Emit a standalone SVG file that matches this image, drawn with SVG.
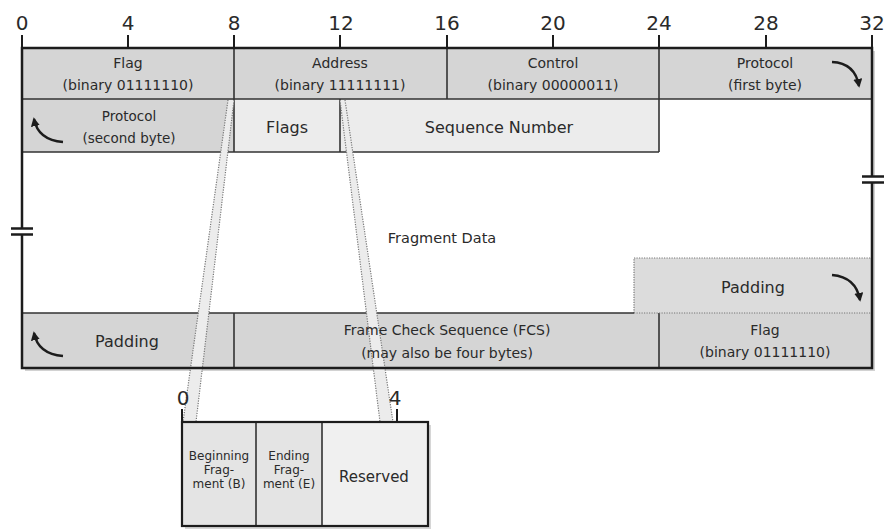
<svg xmlns="http://www.w3.org/2000/svg" width="886" height="531" viewBox="0 0 886 531">
<style>
text{font-family:"DejaVu Sans","Liberation Sans",sans-serif;fill:#2a2a2a;text-anchor:middle}
.tick{font-size:20px}
.sm{font-size:14px}
.md{font-size:16px}
.xs{font-size:12px}
.gray{fill:#d5d5d5}
.light{fill:#ececec}
.inner{stroke:#333;stroke-width:1.6;fill:none}
.outer{stroke:#1c1c1c;stroke-width:2.5;fill:none}
.dot{stroke:#777;stroke-width:1.2;stroke-dasharray:1.2 1.3;fill:none}
.arr{stroke:#1c1c1c;stroke-width:2.4;fill:none;marker-end:url(#ah)}
</style>
<defs>
<marker id="ah" viewBox="0 0 10 10" refX="8" refY="5" markerWidth="9" markerHeight="9" markerUnits="userSpaceOnUse" orient="auto">
<path d="M0,0 L10,5 L0,10 z" fill="#1c1c1c"/>
</marker>
</defs>
<rect width="886" height="531" fill="#ffffff"/>
<!-- ruler -->
<g id="ruler">
<g stroke="#1c1c1c" stroke-width="2">
<line x1="22" y1="35" x2="22" y2="48"/>
<line x1="128" y1="35" x2="128" y2="48"/>
<line x1="234" y1="35" x2="234" y2="48"/>
<line x1="340" y1="35" x2="340" y2="48"/>
<line x1="447" y1="35" x2="447" y2="48"/>
<line x1="553" y1="35" x2="553" y2="48"/>
<line x1="659" y1="35" x2="659" y2="48"/>
<line x1="766" y1="35" x2="766" y2="48"/>
<line x1="872" y1="35" x2="872" y2="48"/>
</g>
<text class="tick" x="22" y="30">0</text>
<text class="tick" x="128" y="30">4</text>
<text class="tick" x="234" y="30">8</text>
<text class="tick" x="341" y="30">12</text>
<text class="tick" x="447" y="30">16</text>
<text class="tick" x="553" y="30">20</text>
<text class="tick" x="659" y="30">24</text>
<text class="tick" x="766" y="30">28</text>
<text class="tick" x="872" y="30">32</text>
</g>
<!-- frame background and shadow -->
<g id="frame">
<rect x="25" y="51" width="850" height="320" fill="#d2d2d2"/>
<rect x="22" y="48" width="850" height="320" fill="#ffffff"/>
</g>
<g id="flag1">
<rect class="gray" x="22" y="48" width="212" height="51"/>
<text class="sm" x="128" y="68">Flag</text>
<text class="sm" x="128" y="90">(binary 01111110)</text>
</g>
<g id="address">
<rect class="gray" x="234" y="48" width="213" height="51"/>
<text class="sm" x="340" y="68">Address</text>
<text class="sm" x="340" y="90">(binary 11111111)</text>
</g>
<g id="control">
<rect class="gray" x="447" y="48" width="212" height="51"/>
<text class="sm" x="553" y="68">Control</text>
<text class="sm" x="553" y="90">(binary 00000011)</text>
</g>
<g id="protocol1">
<rect class="gray" x="659" y="48" width="213" height="51"/>
<text class="sm" x="765" y="68">Protocol</text>
<text class="sm" x="765" y="90">(first byte)</text>
<path class="arr" d="M832,62 Q855,63 859,86"/>
</g>
<g id="protocol2">
<rect class="gray" x="22" y="99" width="212" height="53"/>
<text class="sm" x="129" y="121" style="font-size:13.5px">Protocol</text>
<text class="sm" x="129" y="143" style="font-size:13.5px">(second byte)</text>
<path class="arr" d="M63,142 Q38,140 34,119"/>
</g>
<g id="flags">
<rect class="light" x="234" y="99" width="106" height="53"/>
<text class="md" x="287" y="133">Flags</text>
</g>
<g id="sequence">
<rect class="light" x="340" y="99" width="319" height="53"/>
<text class="md" x="499" y="133">Sequence Number</text>
</g>
<g id="fragment">
<text class="md" x="442" y="243" style="font-size:14.5px">Fragment Data</text>
</g>
<g id="padding1">
<rect x="634" y="258" width="238" height="55" fill="#dcdcdc"/>
<path class="dot" d="M634,313 V258 H872"/>
<text class="md" x="753" y="293">Padding</text>
<path class="arr" d="M832,275 Q856,277 860,300"/>
</g>
<g id="padding2">
<rect class="gray" x="22" y="313" width="212" height="55"/>
<text class="md" x="127" y="347">Padding</text>
<path class="arr" d="M63,356 Q38,354 34,333"/>
</g>
<g id="fcs">
<rect class="gray" x="234" y="313" width="425" height="55"/>
</g>
<g id="flag2">
<rect class="gray" x="659" y="313" width="213" height="55"/>
</g>
<!-- internal lines -->
<g id="grid">
<path class="inner" d="M22,99 H872 M234,48 V99 M447,48 V99 M659,48 V152 M234,99 V152 M340,99 V152 M22,152 H659 M22,313 H634 M234,313 V368 M659,313 V368"/>
<path class="dot" d="M634,313 H872"/>
</g>
<!-- zoom bands -->
<g id="connectors">
<polygon points="228,100 234,100 196,422 183,422" fill="#ececec"/>
<polygon points="340,100 345,100 393,422 380,422" fill="#ececec"/>
<path class="dot" d="M228,100 L183,422 M234,100 L196,422 M340,100 L380,422 M345,100 L393,422"/>
</g>
<!-- outer border -->
<g id="border">
<rect class="outer" x="22" y="48" width="850" height="320"/>
<rect x="18" y="229" width="8" height="5" fill="#ffffff"/>
<path d="M11,228.5 H33 M11,234.5 H33" stroke="#1c1c1c" stroke-width="2.5"/>
<rect x="868" y="177" width="8" height="5" fill="#ffffff"/>
<path d="M862,176.5 H884 M862,182.5 H884" stroke="#1c1c1c" stroke-width="2.5"/>
</g>
<g id="labels-bottom">
<text class="sm" x="447" y="335">Frame Check Sequence (FCS)</text>
<text class="sm" x="447" y="358">(may also be four bytes)</text>
<text class="sm" x="765" y="335">Flag</text>
<text class="sm" x="765" y="357">(binary 01111110)</text>
</g>
<!-- flags detail -->
<g id="flags-detail">
<rect x="185" y="425" width="246" height="104" fill="#d6d6d6"/>
<rect x="182" y="422" width="74" height="104" fill="#e4e4e4"/>
<rect x="256" y="422" width="66" height="104" fill="#e4e4e4"/>
<rect x="322" y="422" width="106" height="104" fill="#f0f0f0"/>
<path class="inner" d="M256,422 V526 M322,422 V526"/>
<rect x="182" y="422" width="246" height="104" stroke="#1c1c1c" stroke-width="2.2" fill="none"/>
<path d="M182,409 V422 M397,409 V422" stroke="#1c1c1c" stroke-width="2"/>
<text class="tick" x="183" y="405">0</text>
<text class="tick" x="395" y="405">4</text>
<text class="xs" x="219" y="460">Beginning</text>
<text class="xs" x="219" y="474">Frag-</text>
<text class="xs" x="219" y="488">ment (B)</text>
<text class="xs" x="289" y="460">Ending</text>
<text class="xs" x="289" y="474">Frag-</text>
<text class="xs" x="289" y="488">ment (E)</text>
<text class="md" x="374" y="482" style="font-size:15px">Reserved</text>
</g>
</svg>
